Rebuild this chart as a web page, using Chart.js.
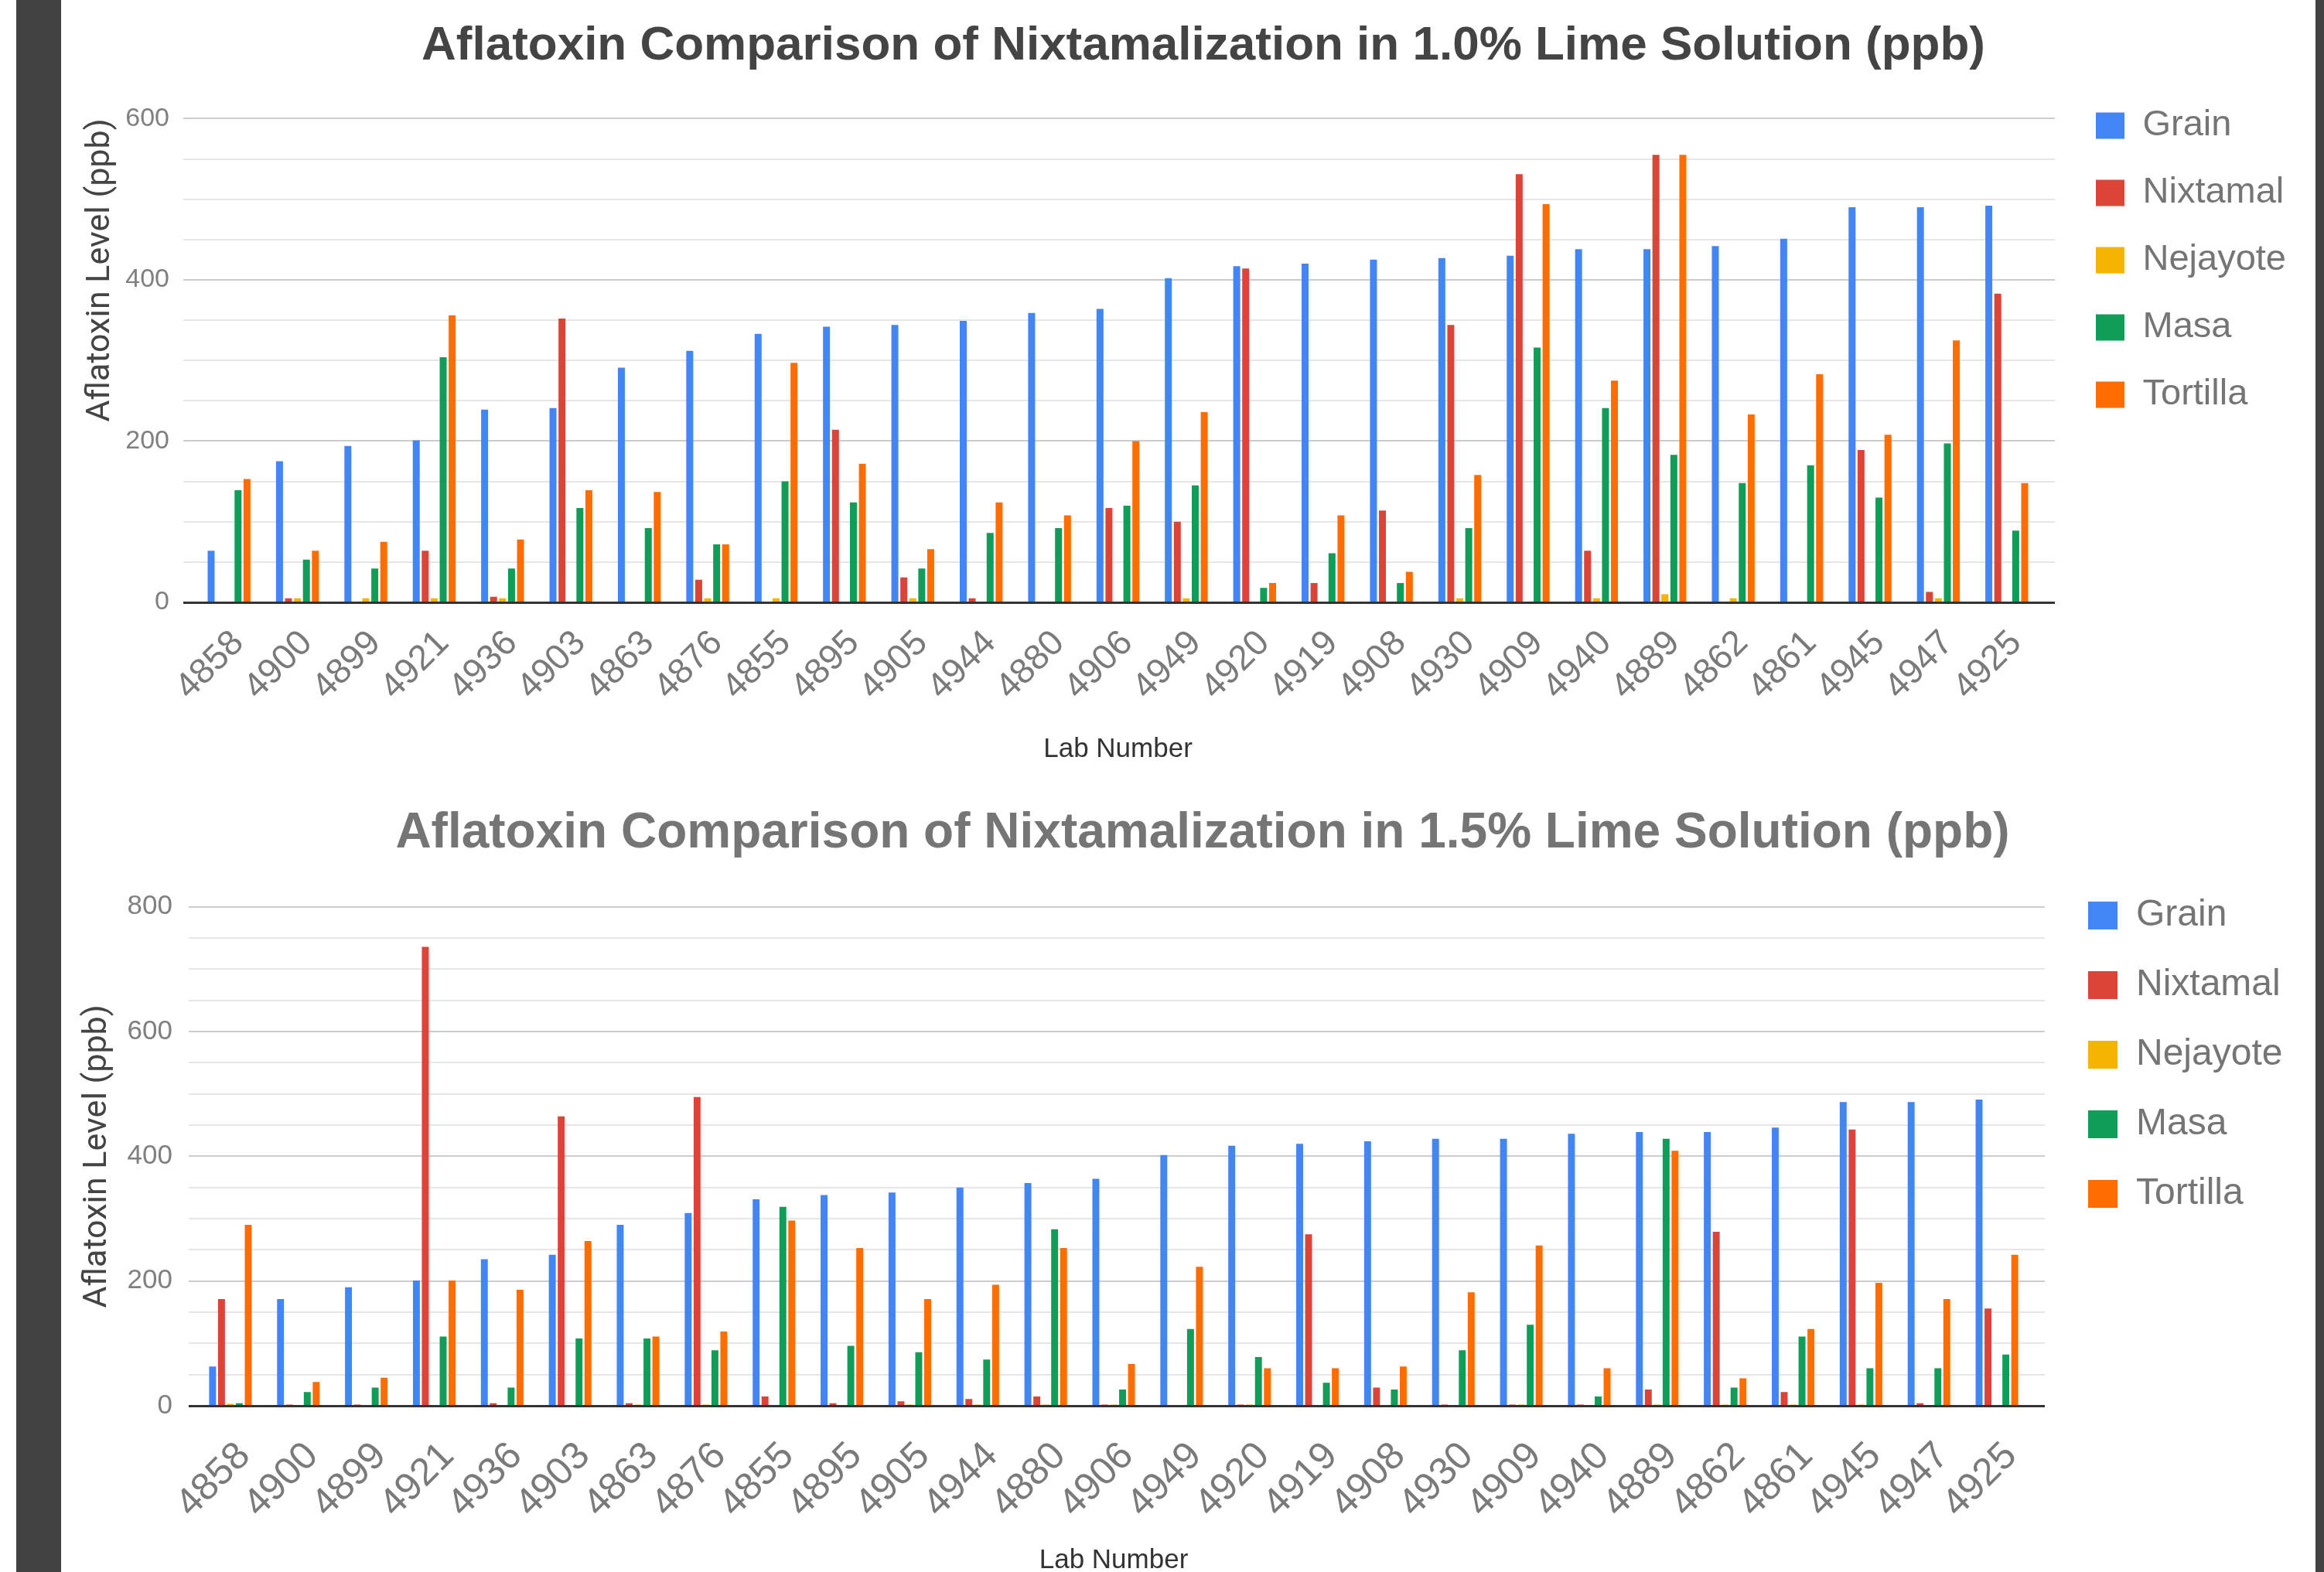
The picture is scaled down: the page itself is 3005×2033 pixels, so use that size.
<!DOCTYPE html>
<html>
<head>
<meta charset="utf-8">
<title>Aflatoxin Comparison of Nixtamalization</title>
<script src="https://cdn.jsdelivr.net/npm/chart.js@4.4.1/dist/chart.umd.min.js"></script>
<style>
  body { margin: 0; width: 3005px; height: 2033px; background: #fff; position: relative; overflow: hidden; }
  .strip { position: absolute; top: 0; height: 2033px; background: #424242; z-index: 2; }
  canvas { position: absolute; left: 0; }
</style>
</head>
<body>
<div class="strip" style="left:21px;width:58px"></div>
<div class="strip" style="left:2994px;width:11px"></div>
<canvas id="chart10" width="3005" height="1016" style="top:0"></canvas>
<canvas id="chart15" width="3005" height="1017" style="top:1016px"></canvas>
<script>
const labNumbers = ['4858', '4900', '4899', '4921', '4936', '4903', '4863', '4876', '4855', '4895', '4905', '4944', '4880', '4906',
  '4949', '4920', '4919', '4908', '4930', '4909', '4940', '4889', '4862', '4861', '4945', '4947', '4925'];
const seriesNames = ['Grain', 'Nixtamal', 'Nejayote', 'Masa', 'Tortilla'];
const seriesColors = ['#4285F4', '#DB4437', '#F4B400', '#0F9D58', '#FF6D00'];

// 1.0% lime solution (ppb)
const grain10 = [64, 175, 194, 201, 239, 241, 291, 312, 333, 342, 344, 349, 359, 364, 402, 417, 420, 425, 427, 430, 438, 438, 442, 451, 490, 490, 492];
const nixtamal10 = [0, 5, 0, 64, 7, 352, 0, 28, 0, 214, 31, 5, 0, 117, 100, 414, 24, 114, 344, 531, 64, 555, 0, 0, 189, 13, 383];
const nejayote10 = [0, 5, 5, 5, 5, 0, 0, 5, 5, 0, 5, 0, 0, 0, 5, 0, 0, 0, 5, 0, 5, 10, 5, 0, 0, 5, 0];
const masa10 = [139, 53, 42, 304, 42, 117, 92, 72, 150, 124, 42, 86, 92, 120, 145, 18, 61, 24, 92, 316, 241, 183, 148, 170, 130, 197, 89];
const tortilla10 = [153, 64, 75, 356, 78, 139, 137, 72, 297, 172, 66, 124, 108, 200, 236, 24, 108, 38, 158, 494, 275, 555, 233, 283, 208, 325, 148];

// 1.5% lime solution (ppb)
const grain15 = [63, 171, 190, 201, 235, 242, 290, 309, 331, 338, 342, 350, 357, 364, 402, 417, 420, 424, 428, 428, 436, 439, 439, 446, 487, 487, 491];
const nixtamal15 = [171, 2, 2, 736, 4, 464, 4, 495, 15, 4, 7, 11, 15, 2, 0, 2, 275, 29, 2, 2, 2, 26, 279, 22, 443, 4, 156];
const nejayote15 = [3, 0, 0, 0, 0, 0, 2, 2, 0, 0, 2, 2, 2, 2, 0, 2, 0, 0, 0, 2, 0, 2, 2, 2, 2, 0, 0];
const masa15 = [4, 22, 29, 111, 29, 108, 108, 89, 319, 96, 86, 74, 283, 26, 123, 78, 37, 26, 89, 130, 15, 428, 29, 111, 60, 60, 82];
const tortilla15 = [290, 38, 45, 201, 186, 264, 111, 119, 297, 253, 171, 194, 253, 67, 223, 60, 60, 63, 182, 257, 60, 409, 44, 123, 197, 171, 242];

const yTicks10 = [0, 50, 100, 150, 200, 250, 300, 350, 400, 450, 500, 550, 600];
const yTicks15 = [0, 50, 100, 150, 200, 250, 300, 350, 400, 450, 500, 550, 600, 650, 700, 750, 800];

const FONT = "'Liberation Sans', Arial, sans-serif";

// horizontal gridlines a bit wider than the plot, like google charts
const wideGrid = {
  id: 'wideGrid',
  beforeDatasetsDraw(chart, args, opts) {
    const {ctx, scales: {y}} = chart;
    ctx.save();
    ctx.lineWidth = 2;
    y.ticks.forEach((t) => {
      if (t.value === 0) return;
      const py = Math.round(y.getPixelForValue(t.value));
      ctx.strokeStyle = t.value % 200 === 0 ? '#cccccc' : '#e6e6e6';
      ctx.beginPath();
      ctx.moveTo(opts.left, py);
      ctx.lineTo(opts.right, py);
      ctx.stroke();
    });
    ctx.restore();
  },
  afterDatasetsDraw(chart, args, opts) {
    const {ctx, scales: {y}} = chart;
    const y0 = Math.round(y.getPixelForValue(0));
    ctx.save();
    ctx.fillStyle = '#333333';
    ctx.fillRect(opts.left, y0 - 1, opts.right - opts.left, 3);
    ctx.restore();
  }
};

// move title and legend where the original has them
const placeBoxes = {
  id: 'placeBoxes',
  afterLayout(chart, args, opts) {
    const t = chart.titleBlock;
    const dx = opts.titleX - (t.left + t.right) / 2;
    t.left += dx;
    t.right += dx;
    const lg = chart.legend;
    lg.left = opts.legendX;
    lg.top = opts.legendY;
    lg.width = 320;
    lg.height = 600;
    lg.right = lg.left + lg.width;
    lg.bottom = lg.top + lg.height;
  }
};

const makeChart = (canvasId, values, yTicks, s) => {
  new Chart(document.getElementById(canvasId), {
    type: 'bar',
    data: {
      labels: labNumbers,
      datasets: seriesNames.map((name, i) => ({
        label: name,
        data: values[i],
        backgroundColor: seriesColors[i],
        borderWidth: 0,
        categoryPercentage: 0.656,
        barPercentage: 0.776
      }))
    },
    options: {
      responsive: false,
      animation: false,
      devicePixelRatio: 1,
      layout: {padding: {left: s.padLeft, right: s.padRight, top: 0, bottom: 0}},
      plugins: {
        title: {
          display: true,
          text: s.title,
          color: s.titleColor,
          font: {family: FONT, size: s.titleSize, weight: 'bold', lineHeight: 1.2},
          padding: {top: s.titlePadTop, bottom: s.titlePadBottom}
        },
        legend: {
          position: 'right',
          align: 'start',
          maxWidth: 1,
          labels: {
            boxWidth: s.boxW,
            boxHeight: s.boxH,
            padding: s.legendPad,
            color: '#757575',
            font: {family: FONT, size: s.legendSize}
          }
        },
        tooltip: {enabled: false},
        wideGrid: {left: s.gridLeft, right: s.gridRight},
        placeBoxes: {titleX: s.titleX, legendX: s.legendX, legendY: s.legendY}
      },
      scales: {
        x: {
          grid: {display: false, drawTicks: false},
          border: {display: false},
          ticks: {
            autoSkip: false,
            minRotation: 45,
            maxRotation: 45,
            padding: s.xTickPad,
            labelOffset: s.xLabelOffset,
            color: '#7a7a7a',
            font: {family: FONT, size: s.xTickSize}
          },
          title: {
            display: true,
            text: 'Lab Number',
            color: '#333333',
            font: {family: FONT, size: 35, lineHeight: s.xTitleLine},
            padding: {top: 0, bottom: s.xTitlePad}
          },
          afterFit: (sc) => { sc.height = s.xHeight; }
        },
        y: {
          min: 0,
          max: yTicks[yTicks.length - 1],
          grid: {display: false, drawTicks: false},
          border: {display: false},
          afterBuildTicks: (sc) => { sc.ticks = yTicks.map((v) => ({value: v})); },
          ticks: {
            autoSkip: false,
            padding: s.yTickPad,
            color: '#808080',
            font: {family: FONT, size: s.yTickSize},
            callback: (v) => (v % 200 === 0 ? v : '')
          },
          title: {
            display: true,
            text: 'Aflatoxin Level (ppb)',
            align: s.yTitleAlign,
            color: '#444444',
            font: {family: 'Roboto, ' + FONT, size: 43, lineHeight: 1.2},
            padding: {top: 0, bottom: 0}
          },
          afterFit: (sc) => { sc.width = s.yWidth; }
        }
      }
    },
    plugins: [wideGrid, placeBoxes]
  });
};

makeChart('chart10', [grain10, nixtamal10, nejayote10, masa10, tortilla10], yTicks10, {
  title: 'Aflatoxin Comparison of Nixtamalization in 1.0% Lime Solution (ppb)',
  titleColor: '#444444', titleSize: 62, titlePadTop: 23, titlePadBottom: 56, titleX: 1556,
  padLeft: 104, padRight: 365, yWidth: 148, yTickPad: 33, yTickSize: 34, yTitleAlign: 'end',
  xHeight: 237, xTickPad: 26, xLabelOffset: 12, xTickSize: 46, xTitleLine: 1.2, xTitlePad: 26,
  boxW: 37, boxH: 34, legendPad: 40, legendSize: 47, legendX: 2670, legendY: 99,
  gridLeft: 237, gridRight: 2657
});

makeChart('chart15', [grain15, nixtamal15, nejayote15, masa15, tortilla15], yTicks15, {
  title: 'Aflatoxin Comparison of Nixtamalization in 1.5% Lime Solution (ppb)',
  titleColor: '#757575', titleSize: 64, titlePadTop: 24, titlePadBottom: 56, titleX: 1555,
  padLeft: 100, padRight: 378, yWidth: 154, yTickPad: 31, yTickSize: 35, yTitleAlign: 'center',
  xHeight: 215, xTickPad: 36, xLabelOffset: 18, xTickSize: 50, xTitleLine: 0.8, xTitlePad: 1,
  boxW: 38, boxH: 36, legendPad: 42, legendSize: 48, legendX: 2658, legendY: 102,
  gridLeft: 244, gridRight: 2644
});
</script>
</body>
</html>
